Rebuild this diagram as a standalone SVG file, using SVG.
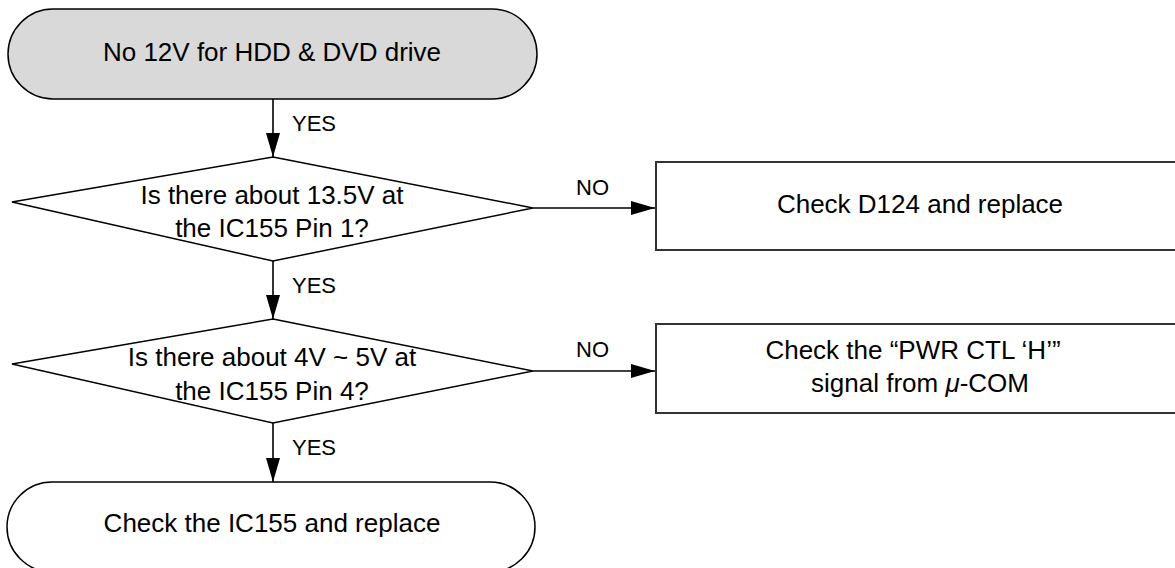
<svg xmlns="http://www.w3.org/2000/svg" width="1175" height="568" viewBox="0 0 1175 568">
<style>
.t{font-family:"Liberation Sans",Arial,Helvetica,sans-serif;font-size:26px;fill:#000;text-anchor:middle}
.l{font-family:"Liberation Sans",Arial,Helvetica,sans-serif;font-size:22px;fill:#000}
.sh{stroke:#000;stroke-width:1.5;fill:#fff}
.bx{stroke:#333;stroke-width:2;fill:#fff}
.c{stroke:#000;stroke-width:1.6;fill:none}
</style>
<defs>
<marker id="ah" markerUnits="userSpaceOnUse" markerWidth="26" markerHeight="14" refX="24" refY="7" orient="auto">
<path d="M0,0 L24,7 L0,14 Z" fill="#000"/>
</marker>
</defs>
<g id="start">
<rect x="8" y="9" width="529" height="90" rx="45" ry="45" class="sh" fill="#d9d9d9" style="fill:#d9d9d9"/>
<text x="272" y="61" class="t">No 12V for HDD &amp; DVD drive</text>
</g>
<g id="q1">
<polygon points="273,157 533,208 273,261 12,202" class="sh"/>
<text x="272" y="204" class="t">Is there about 13.5V at</text>
<text x="272" y="237" class="t">the IC155 Pin 1?</text>
</g>
<g id="a1">
<rect x="656" y="162" width="530" height="88" class="bx"/>
<text x="920" y="213" class="t">Check D124 and replace</text>
</g>
<g id="q2">
<polygon points="273,319 533,371 273,423 12,364" class="sh"/>
<text x="272" y="366" class="t">Is there about 4V ~ 5V at</text>
<text x="272" y="400" class="t">the IC155 Pin 4?</text>
</g>
<g id="a2">
<rect x="656" y="324" width="530" height="89" class="bx"/>
<text x="913" y="359" class="t">Check the “PWR CTL ‘H’”</text>
<text x="920" y="392" class="t">signal from <tspan font-style="italic">μ</tspan>-COM</text>
</g>
<g id="end">
<rect x="7" y="482" width="528" height="90" rx="45" ry="45" class="sh"/>
<text x="272" y="532" class="t">Check the IC155 and replace</text>
</g>
<g id="connectors">
<line x1="273" y1="99" x2="273" y2="157" class="c" marker-end="url(#ah)"/>
<line x1="273" y1="261" x2="273" y2="319" class="c" marker-end="url(#ah)"/>
<line x1="273" y1="423" x2="273" y2="482" class="c" marker-end="url(#ah)"/>
<line x1="533" y1="208" x2="655" y2="208" class="c" marker-end="url(#ah)"/>
<line x1="533" y1="371" x2="655" y2="371" class="c" marker-end="url(#ah)"/>
<text x="292" y="131" class="l">YES</text>
<text x="292" y="293" class="l">YES</text>
<text x="292" y="455" class="l">YES</text>
<text x="576" y="195" class="l">NO</text>
<text x="576" y="357" class="l">NO</text>
</g>
</svg>
